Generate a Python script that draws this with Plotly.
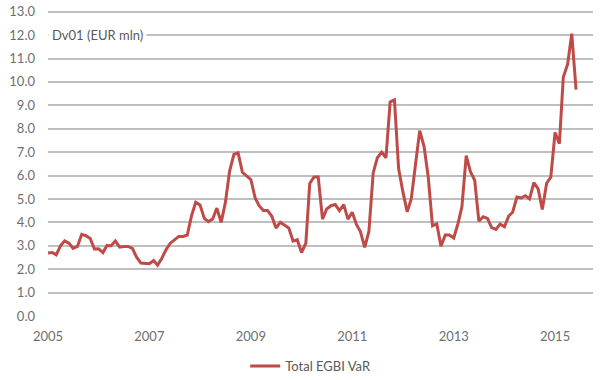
import pandas as pd
import plotly.graph_objects as go

series_name = "Total EGBI VaR"
unit_label = "Dv01 (EUR mln)"
start_month = "2005-01-01"
var_values = [
    2.69, 2.71, 2.61, 3.00, 3.21, 3.11, 2.89, 2.97, 3.49, 3.43, 3.31, 2.86,
    2.87, 2.71, 3.01, 3.00, 3.21, 2.94, 2.97, 2.97, 2.89, 2.51, 2.26, 2.23,
    2.23, 2.37, 2.17, 2.47, 2.83, 3.11, 3.26, 3.40, 3.40, 3.46, 4.29, 4.86,
    4.74, 4.17, 4.03, 4.14, 4.61, 4.00, 4.83, 6.19, 6.90, 6.97, 6.14, 6.00,
    5.83, 5.04, 4.71, 4.51, 4.51, 4.26, 3.76, 4.00, 3.86, 3.76, 3.20, 3.26,
    2.71, 3.11, 5.66, 5.94, 5.94, 4.14, 4.57, 4.71, 4.76, 4.50, 4.76, 4.14,
    4.43, 3.90, 3.61, 2.93, 3.61, 6.11, 6.76, 7.00, 6.76, 9.14, 9.23, 6.30,
    5.30, 4.45, 5.00, 6.45, 7.92, 7.25, 5.96, 3.85, 3.93, 2.98, 3.46, 3.46,
    3.33, 3.96, 4.67, 6.85, 6.17, 5.80, 4.05, 4.24, 4.17, 3.78, 3.70, 3.93,
    3.81, 4.27, 4.43, 5.08, 5.04, 5.14, 5.00, 5.70, 5.43, 4.55, 5.67, 5.93,
    7.84, 7.36, 10.20, 10.75, 12.06, 9.67,
]
x_tick_labels = ["2005", "2007", "2009", "2011", "2013", "2015"]
x_tick_dates = ["2005-01-01", "2007-01-01", "2009-01-01", "2011-01-01", "2013-01-01", "2015-01-01"]
y_tick_values = list(range(0, 14))

dates = pd.date_range(start_month, periods=len(var_values), freq="MS")

FONT = "Lato"
TICK_COLOR = "#6f6f6f"
GRID_COLOR = "#bfbfbf"

fig = go.Figure()
fig.add_trace(go.Scatter(
    x=dates, y=var_values, mode="lines", name=series_name,
    line=dict(color="#BE4B48", width=3),
))

fig.update_layout(
    width=600, height=380,
    margin=dict(l=48, r=7, t=7, b=64, autoexpand=False),
    paper_bgcolor="white", plot_bgcolor="white",
    font=dict(family=FONT, size=13, color=TICK_COLOR),
    showlegend=True,
    legend=dict(orientation="h", x=0.482, xanchor="center",
                yref="container", y=0.037, yanchor="middle",
                font=dict(family=FONT, size=13, color="#595959")),
    xaxis=dict(
        range=["2005-01-01", "2015-10-01"],
        tickmode="array", tickvals=x_tick_dates, ticktext=x_tick_labels,
        showgrid=False, zeroline=False, showline=False, ticks="",
        ticklabelstandoff=11, automargin=False, ticklabeloverflow="allow",
    ),
    yaxis=dict(
        range=[0, 13.2], tickmode="array", tickvals=y_tick_values,
        ticktext=[f"{v:.1f}" for v in y_tick_values],
        showgrid=True, gridcolor=GRID_COLOR, gridwidth=1.5,
        zeroline=False, showline=False, ticks="",
        ticklabelstandoff=12, automargin=False, ticklabeloverflow="allow",
    ),
)

# top gridline (13.0), drawn explicitly so it is always visible
fig.add_shape(
    type="line", xref="paper", x0=0, x1=1, yref="y",
    y0=y_tick_values[-1], y1=y_tick_values[-1],
    line=dict(color=GRID_COLOR, width=1.5), layer="below",
)

fig.add_annotation(
    x=0.0, xref="paper", y=12, yref="y", xanchor="left", yanchor="middle",
    text=unit_label, showarrow=False, bgcolor="white",
    font=dict(family=FONT, size=13, color="#595959"),
    borderpad=3,
)

# remove the page's default body margin so the 600x380 figure fills the window
fig.write_html("out.html", config={"displayModeBar": False},
               post_script="document.body.style.margin='0';")
